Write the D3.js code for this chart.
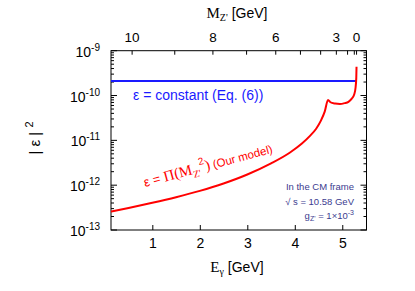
<!DOCTYPE html>
<html>
<head>
<meta charset="utf-8">
<script src="https://cdn.jsdelivr.net/npm/d3@7"></script>
<style>
  html, body { margin: 0; padding: 0; background: #fff; }
  text { font-family: "Liberation Sans", Arial, sans-serif; }
</style>
</head>
<body>
<svg id="chart" width="415" height="291"></svg>
<script>
// photon energy E_gamma [GeV] and |eps|^2 for the model curve
const eGamma = [0.13, 0.5, 1.0, 1.5, 2.0, 2.5, 3.0, 3.5, 3.9, 4.15, 4.32, 4.45, 4.55, 4.63, 4.70,
                4.75, 4.85, 4.95, 5.05, 5.13, 5.2, 5.25, 5.28, 5.295, 5.30];
const epsModel = [2.57e-13, 3.10e-13, 4.05e-13, 5.40e-13, 7.45e-13, 1.09e-12, 1.73e-12, 3.07e-12,
                  5.37e-12, 8.51e-12, 1.26e-11, 1.82e-11, 2.75e-11, 4.37e-11, 7.94e-11,
                  7.08e-11, 6.61e-11, 6.46e-11, 6.76e-11, 7.24e-11, 8.51e-11, 1.05e-10,
                  1.51e-10, 2.51e-10, 4.37e-10];
// constant epsilon line
const eConst = [0.13, 5.29];
const epsConst = [2.1e-10, 2.1e-10];

const xTicks = [1, 2, 3, 4, 5];
const yDecades = [-13, -12, -11, -10, -9];
const mTicks = [10, 9, 8, 7, 6, 5, 4, 3, 2, 1, 0];
const mLabels = [10, 8, 6, 3, 0];
const sqrtS = 10.58;

const margin = {left: 111, right: 48.5, top: 50.7, bottom: 61};
const W = 415, H = 291;
const w = W - margin.left - margin.right;
const h = H - margin.top - margin.bottom;

const svg = d3.select("#chart");
const g = svg.append("g").attr("transform", `translate(${margin.left},${margin.top})`);

const x = d3.scaleLinear().domain([0.13, 5.51]).range([0, w]);
const y = d3.scaleLog().domain([1e-13, 1e-9]).range([h, 0]);

// E_gamma of a Z' mass
const eOfM = m => (sqrtS * sqrtS - m * m) / (2 * sqrtS);

// bottom axis
const xAxis = d3.axisBottom(x).tickValues(xTicks).tickSize(-5).tickPadding(8).tickFormat(d3.format("d"));
g.append("g").attr("transform", `translate(0,${h})`).call(xAxis)
  .call(a => a.select(".domain").remove())
  .selectAll("text").style("font-size", "14px").attr("fill", "#000");

// top axis (M_Z')
const topAxis = d3.axisTop(x).tickValues(mTicks.map(eOfM)).tickSize(-4).tickPadding(9)
  .tickFormat((d, i) => mLabels.includes(mTicks[i]) ? String(mTicks[i]) : "");
g.append("g").call(topAxis)
  .call(a => a.select(".domain").remove())
  .selectAll("text").style("font-size", "13.5px").attr("fill", "#000");

// log y ticks: majors + minors on both sides
const minors = [];
yDecades.slice(0, -1).forEach(p => { for (let k = 2; k <= 9; k++) minors.push(k * Math.pow(10, p)); });
const majors = yDecades.map(p => Math.pow(10, p));

[["left", 0, 1], ["right", w, -1]].forEach(([side, x0, dir]) => {
  const ax = g.append("g").attr("class", "y-" + side);
  ax.selectAll(".maj").data(majors).enter().append("line")
    .attr("x1", x0).attr("x2", x0 + dir * 6)
    .attr("y1", d => y(d)).attr("y2", d => y(d)).attr("stroke", "#000");
  ax.selectAll(".min").data(minors).enter().append("line")
    .attr("x1", x0).attr("x2", x0 + dir * 3)
    .attr("y1", d => y(d)).attr("y2", d => y(d)).attr("stroke", "#000");
});

// left tick labels 10^p
const yl = g.append("g");
yDecades.forEach(p => {
  const t = yl.append("text").attr("x", -11).attr("y", y(Math.pow(10, p)) + 6)
    .attr("text-anchor", "end").style("font-size", "14px");
  t.append("tspan").text("10");
  t.append("tspan").attr("dy", -6).style("font-size", "10px").text(String(p));
});

// frame
g.append("rect").attr("width", w).attr("height", h).attr("fill", "none")
  .attr("stroke", "#000").attr("stroke-width", 1);

// curves
const line = d3.line().x(d => x(d[0])).y(d => y(d[1]));
g.append("path").datum(d3.zip(eConst, epsConst)).attr("d", line)
  .attr("fill", "none").attr("stroke", "#1a1aff").attr("stroke-width", 2);
g.append("path").datum(d3.zip(eGamma, epsModel)).attr("d", line.curve(d3.curveMonotoneX))
  .attr("fill", "none").attr("stroke", "#ff0000").attr("stroke-width", 2);

// labels on curves
svg.append("text").attr("x", 133).attr("y", 100).attr("fill", "#1a1aff")
  .style("font-size", "14px").text("ε = constant (Eq. (6))");

const rl = svg.append("text").attr("transform", "translate(145,187) rotate(-15)")
  .attr("fill", "#ff0000").style("font-size", "13px");
rl.append("tspan").text("ε = ");
rl.append("tspan").style("font-family", "'Liberation Serif', serif").style("font-size", "15px").text("Π(M");
rl.append("tspan").attr("dy", 4).style("font-size", "10px").style("font-family", "'Liberation Serif', serif").text("Z'");
rl.append("tspan").attr("dy", -11).style("font-size", "10px").text("2");
rl.append("tspan").attr("dy", 7).style("font-family", "'Liberation Serif', serif").style("font-size", "15px").text(")");
rl.append("tspan").style("font-size", "11.5px").text(" (Our model)");

// info box
const navy = "#3b3b8f";
const info = svg.append("g").attr("fill", navy).style("font-size", "9.5px").attr("text-anchor", "end");
info.append("text").attr("x", 354).attr("y", 190).text("In the CM frame");
info.append("text").attr("x", 354).attr("y", 205).text("√ s = 10.58 GeV");
const gz = info.append("text").attr("x", 354).attr("y", 219);
gz.append("tspan").text("g");
gz.append("tspan").attr("dy", 2).style("font-size", "7px").text("Z'");
gz.append("tspan").attr("dy", -2).text(" = 1×10");
gz.append("tspan").attr("dy", -4).style("font-size", "7px").text("-3");

// axis titles
const xt = svg.append("text").attr("x", 237).attr("y", 272).attr("text-anchor", "middle").style("font-size", "14px");
xt.append("tspan").style("font-family", "'Liberation Serif', serif").style("font-size", "15px").text("E");
xt.append("tspan").attr("dy", 3).style("font-size", "10px").style("font-family", "'Liberation Serif', serif").text("γ");
xt.append("tspan").attr("dy", -3).text(" [GeV]");

const tt = svg.append("text").attr("x", 237).attr("y", 18).attr("text-anchor", "middle").style("font-size", "14px");
tt.append("tspan").style("font-family", "'Liberation Serif', serif").style("font-size", "15px").text("M");
tt.append("tspan").attr("dy", 3).style("font-size", "10px").style("font-family", "'Liberation Serif', serif").text("Z'");
tt.append("tspan").attr("dy", -3).text(" [GeV]");

const ytl = svg.append("text").attr("transform", "translate(40,138) rotate(-90)")
  .attr("text-anchor", "middle").style("font-size", "15px");
ytl.append("tspan").text("| ε | ");
ytl.append("tspan").attr("dy", -7).style("font-size", "11px").text("2");
</script>
</body>
</html>
